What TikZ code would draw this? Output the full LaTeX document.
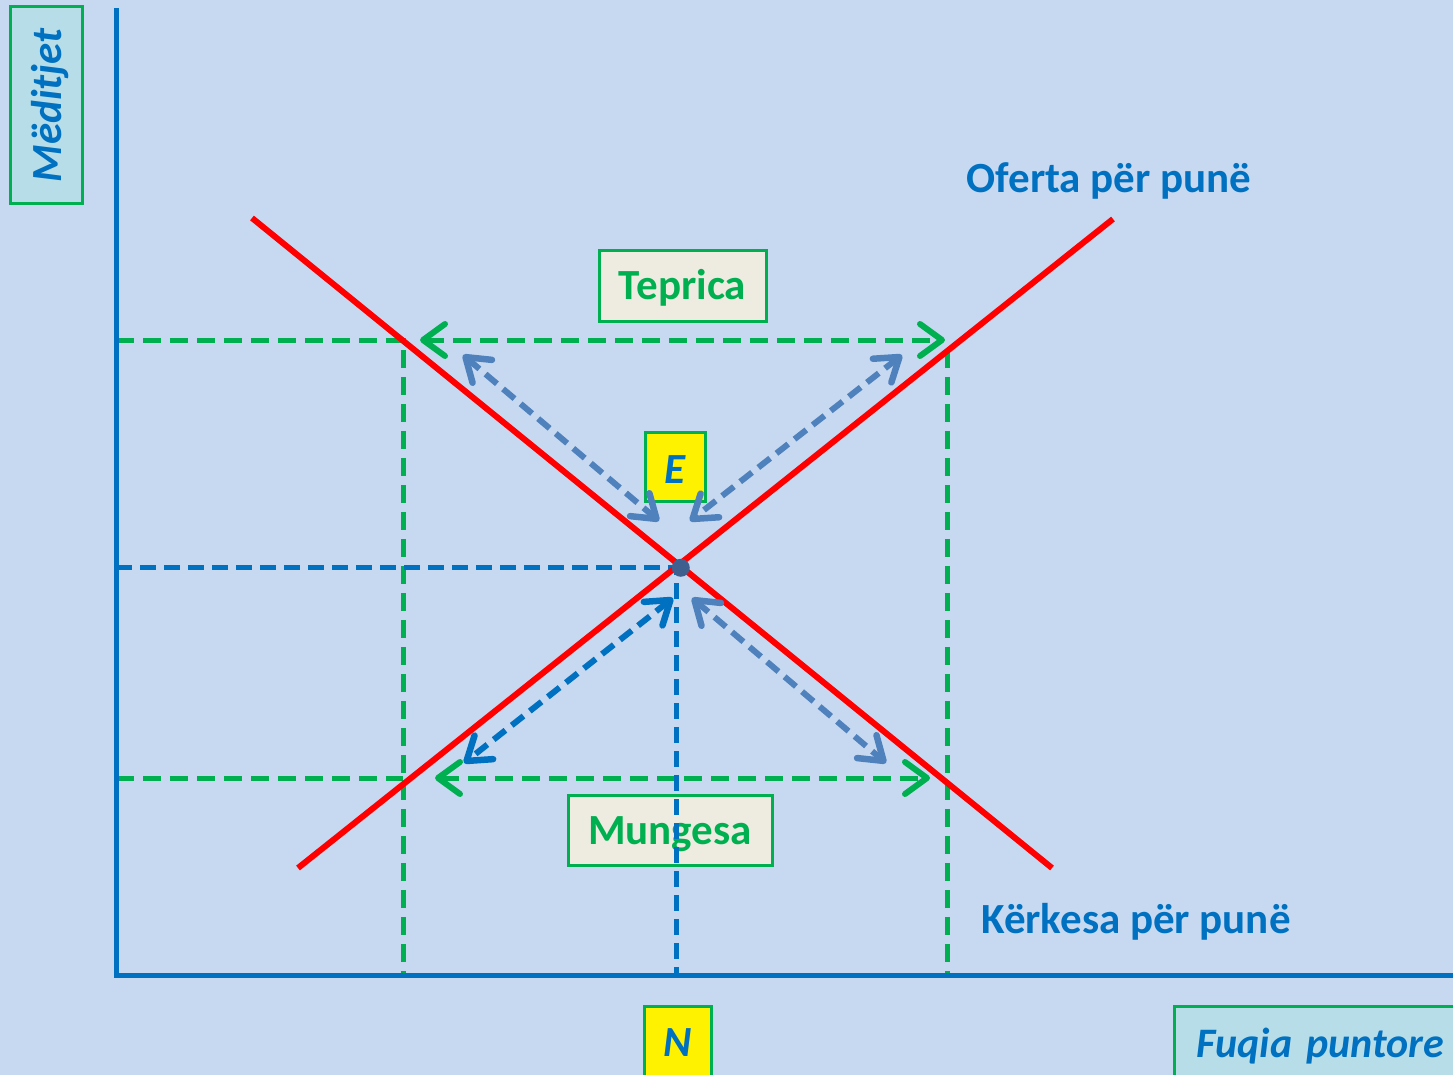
\documentclass[tikz,border=0pt]{standalone}
\usepackage{fontspec}
\setmainfont{Carlito}
\usetikzlibrary{arrows.meta}
\definecolor{bg}{HTML}{C6D9F1}
\definecolor{axisblue}{HTML}{0070C0}
\definecolor{grn}{HTML}{00B050}
\definecolor{steel}{HTML}{4F81BD}
\definecolor{beige}{HTML}{EEECE1}
\definecolor{aqua}{HTML}{B7DEE8}
\definecolor{dotc}{HTML}{3F5F8F}
\tikzset{
  lbl/.style={font=\fontsize{43}{50}\selectfont\bfseries},
  box/.style={draw=grn, line width=3pt, inner sep=0pt},
  gdash/.style={draw=grn, line width=5pt, dash pattern=on 18pt off 9pt},
  bdash/.style={draw=axisblue, line width=5pt, dash pattern=on 16pt off 8pt},
  garrow/.style={gdash, {Straight Barb[length=22pt,width=32pt,round,line width=6pt]}-{Straight Barb[length=22pt,width=32pt,round,line width=6pt]}},
  sarrow/.style={draw=steel, line width=6pt, dash pattern=on 15pt off 8pt, {Straight Barb[length=22pt,width=30pt,round,line width=6.5pt]}-{Straight Barb[length=22pt,width=30pt,round,line width=6.5pt]}},
  redline/.style={draw=red, line width=6pt},
}
\begin{document}
\begin{tikzpicture}[x=1pt,y=-1pt]
\useasboundingbox (0,0) rectangle (1453,1075);
\clip (0,0) rectangle (1453,1075);
\fill[bg] (0,0) rectangle (1453,1075);

% coordinates
\coordinate (O) at (116,975);
\coordinate (Ytop) at (116,8);
\coordinate (Xend) at (1456,975);
\coordinate (S1) at (298,868);
\coordinate (S2) at (1113,219);
\coordinate (D1) at (252,218);
\coordinate (D2) at (1052,868);
\coordinate (E) at (intersection of S1--S2 and D1--D2);
\coordinate (HL) at (116,340);
\coordinate (HLm) at (403,340);
\coordinate (LL) at (116,778);
\coordinate (LLm) at (403,778);
\coordinate (VLb) at (403,975);
\coordinate (VR) at (947,350);
\coordinate (VRb) at (947,975);
\coordinate (TA1) at (420,340);
\coordinate (TA2) at (945,340);
\coordinate (MA1) at (435,778);
\coordinate (MA2) at (930,778);
\coordinate (EY) at (116,567);
\coordinate (EX) at (676,567);
\coordinate (EXb) at (676,975);
\coordinate (A1) at (463,355);
\coordinate (A2) at (659,521);
\coordinate (B1) at (902,355);
\coordinate (B2) at (690,521);
\coordinate (C1) at (692,598);
\coordinate (C2) at (886,763);
\coordinate (F1) at (673,598);
\coordinate (F2) at (464,763);

% boxes
\node[box, fill=aqua, rotate=90, anchor=north, minimum width=197pt,
      text height=51pt, text depth=21pt, lbl, text=axisblue]
      (med) at (9,105.5) {\itshape Mëditjet};
\node[box, fill=beige, anchor=north, minimum width=167pt,
      text height=49pt, text depth=22pt, lbl, text=grn]
      (tep) at (682.5,249) {Teprica};
\node[box, fill=beige, anchor=north, minimum width=204pt,
      text height=49pt, text depth=21pt, lbl, text=grn]
      (mun) at (670,794) {Mungesa};

% green dashed guides
\draw[gdash] (HL) -- (HLm) -- (VLb);
\draw[gdash] (LL) -- (LLm);
\draw[gdash] (VR) -- (VRb);
\draw[garrow] (TA1) -- (TA2);
\draw[garrow] (MA1) -- (MA2);

% blue dashed to equilibrium
\draw[bdash] (EY) -- (EX) -- (EXb);

% curves
\draw[redline] (S1) -- (S2);
\draw[redline] (D1) -- (D2);
\node[circle, fill=dotc, minimum size=18pt, inner sep=0pt] (dot) at ([shift={(2,3)}]E) {};

% E box
\node[box, fill=yellow, anchor=north, minimum width=60pt,
      text height=51pt, text depth=18pt, lbl, text=axisblue]
      (Ebox) at (675,431) {\itshape E};

% adjustment arrows
\draw[sarrow] (A1) -- (A2);
\draw[sarrow] (B1) -- (B2);
\draw[sarrow] (C1) -- (C2);
\draw[sarrow, draw=axisblue] (F1) -- (F2);

% bottom boxes
\node[box, fill=yellow, anchor=north, minimum width=67pt,
      text height=50pt, text depth=50pt, lbl, text=axisblue]
      (Nbox) at (677.5,1005) {\itshape N};
\node[box, fill=aqua, anchor=north west, minimum width=320pt, inner xsep=22pt,
      text height=51pt, text depth=50pt, text=axisblue, align=left, text width=276pt,
      font=\fontsize{42}{50}\selectfont\bfseries]
      (fuq) at (1173,1005) {\itshape Fuqia puntore};

% axes
\draw[axisblue, line width=5pt] (Ytop) -- (O) -- (Xend);

% curve labels
\node[lbl, text=axisblue, anchor=base, inner sep=0pt] (ofl) at (1109,193) {Oferta për punë};
\node[lbl, text=axisblue, anchor=base, inner sep=0pt] (kel) at (1136,933) {Kërkesa për punë};
\end{tikzpicture}
\end{document}
